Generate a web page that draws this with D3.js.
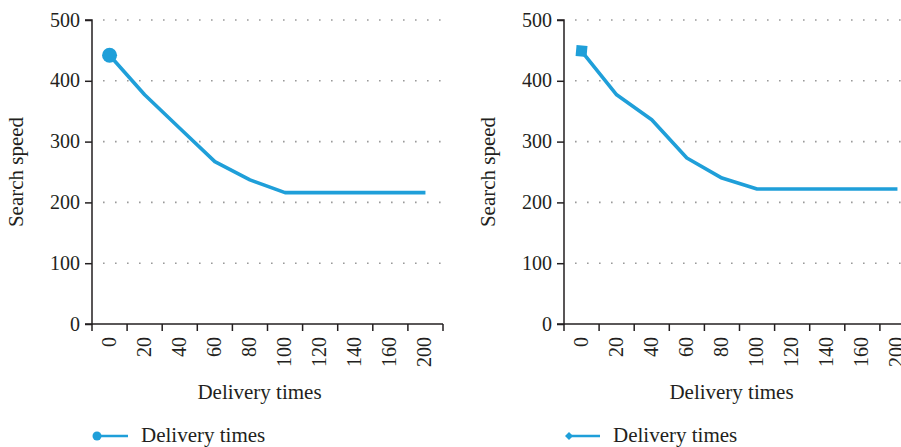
<!DOCTYPE html>
<html>
<head>
<meta charset="utf-8">
<script src="https://cdn.jsdelivr.net/npm/d3@7"></script>
<style>
  html, body { margin: 0; padding: 0; background: #fff; }
  svg { display: block; }
</style>
</head>
<body>
<svg id="chart" width="901" height="447"></svg>
<script>
const categories = ["0","20","40","60","80","100","120","140","160","200"];
const leftValues  = [442, 377, 322, 267, 237, 216, 216, 216, 216, 216];
const rightValues = [449, 377, 336, 273, 240, 222, 222, 222, 222, 222];
const yTicks = [0, 100, 200, 300, 400, 500];
const xTitle = "Delivery times";
const yTitle = "Search speed";
const seriesName = "Delivery times";

const FONT = "'Liberation Serif', 'Times New Roman', serif";
const color = "#1f9fd9";
const ink = "#231f20";
const svg = d3.select("#chart");

const panels = [
  { values: leftValues,  x0: 92,  x1: 443, marker: "circle", legendMarker: "circle" },
  { values: rightValues, x0: 564, x1: 915, marker: "square", legendMarker: "diamond" }
];

const yTop = 20, yBottom = 324;

panels.forEach(p => {
  const g = svg.append("g");
  const x = d3.scaleBand().domain(categories).range([p.x0, p.x1]);
  const y = d3.scaleLinear().domain([0, 500]).range([yBottom, yTop]);

  g.append("g").selectAll("line")
    .data(yTicks.filter(t => t > 0))
    .join("line")
    .attr("x1", p.x0 + 11).attr("x2", p.x1)
    .attr("y1", d => y(d)).attr("y2", d => y(d))
    .attr("stroke", "#9a9a9a")
    .attr("stroke-width", 1.6)
    .attr("stroke-dasharray", "1.6,10.4");

  const ya = g.append("g")
    .attr("transform", `translate(${p.x0},0)`)
    .call(d3.axisLeft(y).tickValues(yTicks).tickSize(7).tickPadding(5).tickFormat(d3.format("d")))
    .attr("font-family", FONT);
  ya.select(".domain").attr("stroke", ink).attr("stroke-width", 1.5).attr("d", `M-7,${yTop}H0V${yBottom}H-7`);
  ya.selectAll(".tick line").attr("stroke", ink).attr("stroke-width", 1.5);
  ya.selectAll(".tick text").attr("font-family", FONT).attr("font-size", 20).attr("fill", ink).attr("dy", "0.3em");

  const xa = g.append("g").attr("transform", `translate(0,${yBottom})`);
  xa.append("line").attr("x1", p.x0).attr("x2", p.x1).attr("y1", 0).attr("y2", 0)
    .attr("stroke", ink).attr("stroke-width", 1.5);
  const bounds = categories.map(c => x(c)).concat([p.x1]);
  xa.selectAll("line.tk").data(bounds).join("line").attr("class", "tk")
    .attr("x1", d => d).attr("x2", d => d).attr("y1", 0).attr("y2", 7)
    .attr("stroke", ink).attr("stroke-width", 1.5);
  xa.selectAll("text.lbl").data(categories).join("text").attr("class", "lbl")
    .attr("transform", d => `translate(${x(d) + x.bandwidth() / 2 + 6},${13}) rotate(-90)`)
    .attr("text-anchor", "end")
    .attr("font-family", FONT).attr("font-size", 20).attr("fill", ink)
    .text(d => d);

  g.append("text")
    .attr("x", (p.x0 + p.x1) / 2 - 8).attr("y", 399)
    .attr("text-anchor", "middle").attr("font-family", FONT).attr("font-size", 21).attr("fill", ink).text(xTitle);
  g.append("text")
    .attr("transform", `translate(${p.x0 - 69},${(yTop + yBottom) / 2}) rotate(-90)`)
    .attr("text-anchor", "middle").attr("font-family", FONT).attr("font-size", 21).attr("fill", ink).text(yTitle);

  const line = d3.line().x((d, i) => x(categories[i]) + x.bandwidth() / 2).y(d => y(d));
  g.append("path").datum(p.values)
    .attr("d", line).attr("fill", "none").attr("stroke", color)
    .attr("stroke-width", 3.6).attr("stroke-linejoin", "round");

  const cx = x(categories[0]) + x.bandwidth() / 2, cy = y(p.values[0]);
  if (p.marker === "circle") {
    g.append("circle").attr("cx", cx).attr("cy", cy).attr("r", 7.5).attr("fill", color);
  } else {
    g.append("rect").attr("x", cx - 5.5).attr("y", cy - 5.5).attr("width", 11).attr("height", 11)
      .attr("fill", color).attr("transform", `rotate(5,${cx},${cy})`);
  }

  const lx = p.x0 + 5, ly = 436;
  g.append("line").attr("x1", lx).attr("x2", lx + 31).attr("y1", ly).attr("y2", ly)
    .attr("stroke", color).attr("stroke-width", 2.5);
  if (p.legendMarker === "circle") {
    g.append("circle").attr("cx", lx).attr("cy", ly).attr("r", 4.5).attr("fill", color);
  } else {
    g.append("path").attr("d", `M${lx - 4},${ly} L${lx},${ly - 4} L${lx + 4},${ly} L${lx},${ly + 4} Z`).attr("fill", color);
  }
  g.append("text").attr("x", lx + 44).attr("y", 442).attr("font-family", FONT).attr("font-size", 21).attr("fill", ink).text(seriesName);
});
</script>
</body>
</html>
